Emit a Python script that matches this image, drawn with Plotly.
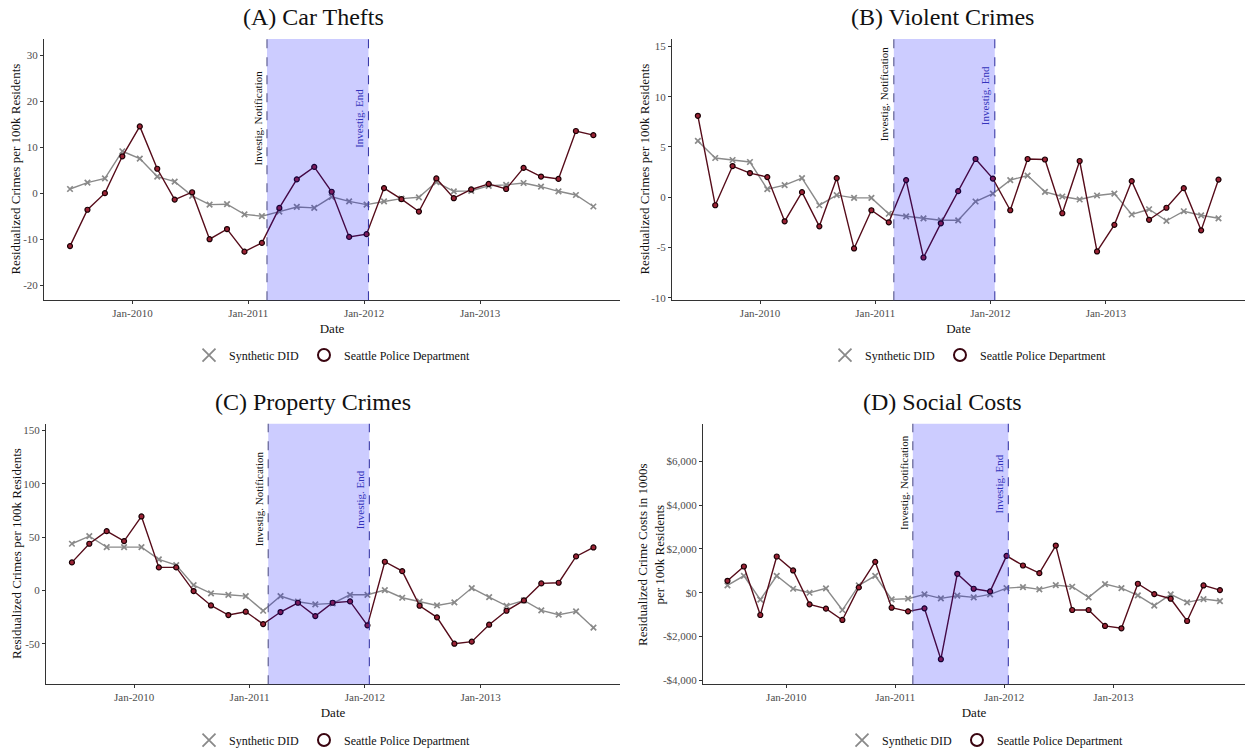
import plotly.graph_objects as go

dates = ['2009-06-18','2009-08-12','2009-10-06','2009-11-30','2010-01-24','2010-03-20','2010-05-14',
         '2010-07-08','2010-09-01','2010-10-26','2010-12-20','2011-02-13','2011-04-09','2011-06-03',
         '2011-07-28','2011-09-21','2011-11-15','2012-01-09','2012-03-04','2012-04-28','2012-06-22',
         '2012-08-16','2012-10-10','2012-12-04','2013-01-28','2013-03-24','2013-05-18','2013-07-12',
         '2013-09-05','2013-10-30','2013-12-24']

notif_date = '2011-03-01'
end_date = '2012-01-15'

car_spd = [-11.5, -3.6, 0.0, 8.0, 14.5, 5.3, -1.4, 0.2, -10.0, -7.8, -12.7, -10.8, -3.2, 3.0, 5.7, 0.3,
           -9.5, -8.9, 1.1, -1.3, -4.0, 3.2, -1.1, 0.8, 2.0, 0.9, 5.5, 3.6, 3.1, 13.5, 12.6]
car_syn = [0.9, 2.3, 3.2, 9.1, 7.5, 3.6, 2.5, -0.6, -2.5, -2.4, -4.6, -5.0, -4.0, -3.0, -3.2, -0.8,
           -1.8, -2.5, -1.8, -1.2, -0.9, 2.4, 0.4, 0.5, 1.6, 1.8, 2.2, 1.4, 0.4, -0.4, -2.9]

vio_spd = [8.1, -0.8, 3.1, 2.4, 2.0, -2.4, 0.5, -2.9, 1.9, -5.1, -1.3, -2.5, 1.7, -6.0, -2.6, 0.6,
           3.8, 1.85, -1.3, 3.8, 3.75, -1.6, 3.6, -5.4, -2.75, 1.6, -2.25, -1.05, 0.9, -3.3, 1.75]
vio_syn = [5.6, 3.9, 3.7, 3.5, 0.8, 1.2, 1.9, -0.8, 0.2, -0.07, -0.07, -1.65, -1.9, -2.1, -2.3, -2.3,
           -0.43, 0.36, 1.7, 2.15, 0.53, 0.07, -0.23, 0.17, 0.36, -1.72, -1.2, -2.35, -1.4, -1.8, -2.1]

prop_spd = [26.3, 43.8, 55.6, 46.3, 69.4, 21.6, 21.6, -0.6, -14.1, -23.1, -20.0, -31.6, -20.3, -11.6,
            -24.1, -11.6, -10.3, -32.8, 26.9, 18.1, -14.4, -25.3, -50.0, -48.1, -32.2, -19.1, -9.4,
            6.6, 7.2, 31.9, 40.3]
prop_syn = [43.8, 50.9, 40.6, 40.6, 40.6, 29.1, 23.8, 5.0, -2.8, -4.1, -5.3, -19.1, -5.3, -10.6,
            -13.1, -12.2, -4.1, -4.1, 0.3, -6.9, -10.6, -14.1, -11.3, 2.2, -6.3, -14.4, -9.4, -18.8,
            -22.8, -19.7, -35.0]

cost_spd = [545, 1197, -1015, 1651, 1015, -530, -727, -1242, 242, 1409, -682, -848, -712, -3030, 864,
            182, 61, 1682, 1242, 894, 2151, -788, -788, -1515, -1621, 409, -61, -273, -1288, 333, 121]
cost_syn = [333, 773, -318, 773, 182, 0, 197, -788, 333, 773, -303, -273, -76, -258, -136, -212, -76,
            212, 258, 152, 348, 273, -212, 394, 212, -121, -591, -76, -439, -288, -379]

titles = ['(A) Car Thefts', '(B) Violent Crimes', '(C) Property Crimes', '(D) Social Costs']
ytitles = ['Residualized Crimes per 100k Residents', 'Residualized Crimes per 100k Residents',
           'Residualized Crimes per 100k Residents',
           'Residualized Crime Costs in 1000s<br>per 100k Residents']
ytickvals = [[-20, -10, 0, 10, 20, 30], [-10, -5, 0, 5, 10, 15], [-50, 0, 50, 100, 150],
             [-4000, -2000, 0, 2000, 4000, 6000]]
yticktext = [['-20', '-10', '0', '10', '20', '30'], ['-10', '-5', '0', '5', '10', '15'],
             ['-50', '0', '50', '100', '150'],
             ['-$4,000', '-$2,000', '$0', '$2,000', '$4,000', '$6,000']]
yranges = [[-23.25, 33.5], [-10.25, 15.75], [-88, 156.3], [-4170, 7700]]
xtickvals = ['2010-01-01', '2011-01-01', '2012-01-01', '2013-01-01']
xticktext = ['Jan-2010', 'Jan-2011', 'Jan-2012', 'Jan-2013']
xrange_ = ['2009-03-28', '2014-03-18']

# label anchor heights (data units) for the rotated annotations
notif_y = [5.7, 5.4, 39.4, 2786]
end_y = [9.4, 7.0, 55.3, 3514]

W, H = 1247, 755
boxes = [(44, 620, 39, 301), (672, 1245, 39, 301), (46, 620, 425, 686), (703, 1245, 425, 686)]
title_pos = [(313, 17), (942, 17), (313, 403), (942, 403)]
legend_pos = [(332, 356), (968, 356), (332, 742), (985, 742)]
ytitle_x = [16, 645, 16, 651]

FONT = 'Liberation Serif'
SPD_LINE = '#560c1a'
SPD_FILL = '#9b2335'
SYN = '#8a8a8a'

series = [(car_syn, car_spd), (vio_syn, vio_spd), (prop_syn, prop_spd), (cost_syn, cost_spd)]

fig = go.Figure()
layout = dict(width=W, height=H, margin=dict(l=0, r=0, t=0, b=0),
              paper_bgcolor='white', plot_bgcolor='white', showlegend=True,
              font=dict(family=FONT, color='#222'))
shapes = []
annotations = []

for i in range(4):
    n = '' if i == 0 else str(i + 1)
    xa, ya = 'x' + n, 'y' + n
    leg = 'legend' + n
    syn, spd = series[i]
    fig.add_trace(go.Scatter(x=dates, y=syn, mode='lines+markers', xaxis=xa, yaxis=ya,
                             line=dict(color=SYN, width=1.4),
                             marker=dict(symbol='x-thin', size=5.5, line=dict(color=SYN, width=1.7)),
                             showlegend=False, legend=leg))
    fig.add_trace(go.Scatter(x=dates, y=spd, mode='lines+markers', xaxis=xa, yaxis=ya,
                             line=dict(color=SPD_LINE, width=1.4),
                             marker=dict(symbol='circle', size=5, color=SPD_FILL,
                                         line=dict(color='#1a0005', width=1.2)),
                             showlegend=False, legend=leg))
    # legend-only entries
    fig.add_trace(go.Scatter(x=[None], y=[None], mode='markers', xaxis=xa, yaxis=ya,
                             name='Synthetic DID', legend=leg,
                             marker=dict(symbol='x-thin', size=13, line=dict(color=SYN, width=1.8))))
    fig.add_trace(go.Scatter(x=[None], y=[None], mode='markers', xaxis=xa, yaxis=ya,
                             name='Seattle Police Department', legend=leg,
                             marker=dict(symbol='circle-open', size=12, color='#3a0510',
                                         line=dict(width=2))))

    x0, x1, y0, y1 = boxes[i]
    layout['xaxis' + n] = dict(domain=[x0 / W, x1 / W], anchor=ya, type='date', range=xrange_,
                               tickvals=xtickvals, ticktext=xticktext, showgrid=False,
                               zeroline=False, showline=True, linecolor='#333', linewidth=1,
                               ticks='outside', ticklen=3, tickcolor='#333',
                               tickfont=dict(family=FONT, size=11, color='#4d4d4d'),
                               title=dict(text='Date', font=dict(family=FONT, size=13, color='#111'),
                                          standoff=5))
    layout['yaxis' + n] = dict(domain=[1 - y1 / H, 1 - y0 / H], anchor=xa, range=yranges[i],
                               tickvals=ytickvals[i], ticktext=yticktext[i], showgrid=False,
                               zeroline=False, showline=True, linecolor='#333', linewidth=1,
                               ticks='outside', ticklen=3, tickcolor='#333',
                               tickfont=dict(family=FONT, size=11, color='#4d4d4d'))
    lx, ly = legend_pos[i]
    layout[leg] = dict(orientation='h', x=lx / W, y=1 - ly / H, xanchor='center', yanchor='middle',
                       font=dict(family=FONT, size=12, color='#111'), bgcolor='rgba(0,0,0,0)',
                       itemwidth=30)

    shapes.append(dict(type='rect', xref=xa, yref=ya + ' domain', x0=notif_date, x1=end_date,
                       y0=0, y1=1, fillcolor='rgba(0,0,255,0.2)', line=dict(width=0), layer='above'))
    shapes.append(dict(type='line', xref=xa, yref=ya + ' domain', x0=notif_date, x1=notif_date,
                       y0=0, y1=1, line=dict(color='#55558a', width=1.1, dash='dash'), layer='above'))
    shapes.append(dict(type='line', xref=xa, yref=ya + ' domain', x0=end_date, x1=end_date,
                       y0=0, y1=1, line=dict(color='#3b3ba8', width=1.1, dash='dash'), layer='above'))

    annotations.append(dict(text='Investig. Notification', xref=xa, yref=ya, x=notif_date, y=notif_y[i],
                            textangle=-90, xanchor='right', yanchor='bottom', showarrow=False,
                            xshift=-1, font=dict(family=FONT, size=11, color='#111')))
    annotations.append(dict(text='Investig. End', xref=xa, yref=ya, x=end_date, y=end_y[i],
                            textangle=-90, xanchor='right', yanchor='bottom', showarrow=False,
                            xshift=-1, font=dict(family=FONT, size=11, color='#3333bb')))
    tx, ty = title_pos[i]
    annotations.append(dict(text=titles[i], xref='paper', yref='paper', x=tx / W, y=1 - ty / H,
                            xanchor='center', yanchor='middle', showarrow=False,
                            font=dict(family=FONT, size=24, color='#111')))
    annotations.append(dict(text=ytitles[i], xref='paper', yref='paper', x=ytitle_x[i] / W,
                            y=1 - (y0 + y1) / 2 / H, xanchor='center', yanchor='middle',
                            textangle=-90, showarrow=False,
                            font=dict(family=FONT, size=13, color='#111')))

layout['shapes'] = shapes
layout['annotations'] = annotations
fig.update_layout(**layout)
fig.write_html('out.html')
